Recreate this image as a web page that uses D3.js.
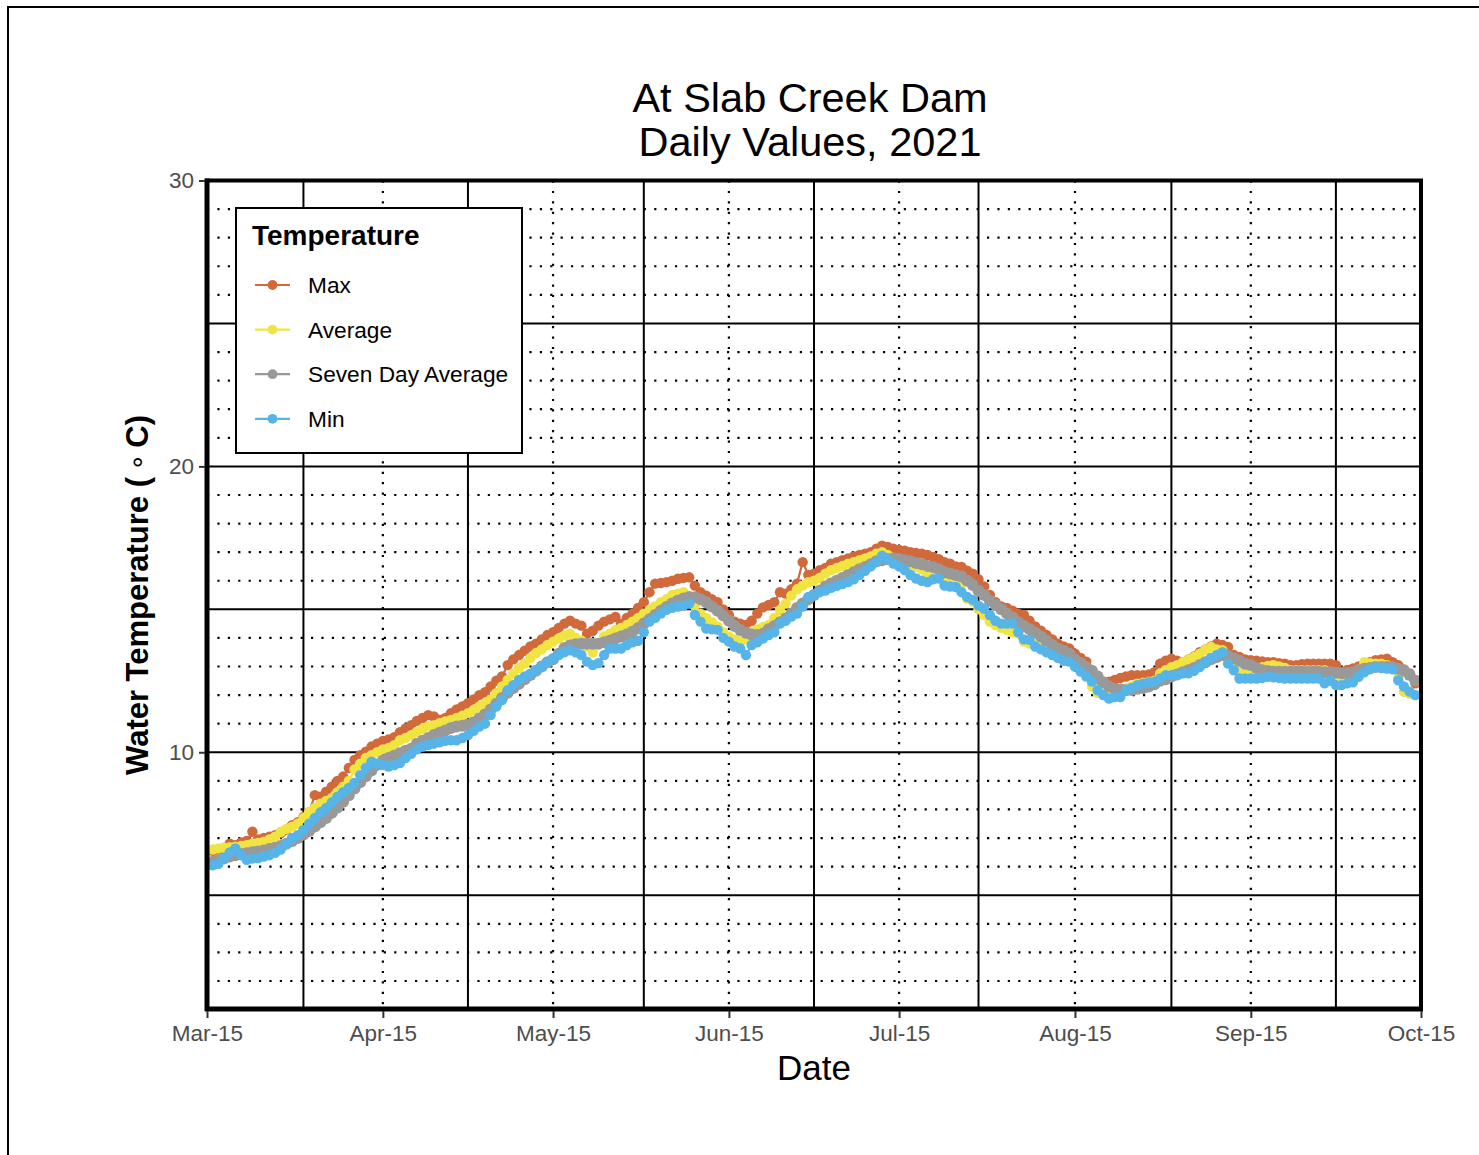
<!DOCTYPE html>
<html><head><meta charset="utf-8">
<script src="https://cdn.jsdelivr.net/npm/d3@7"></script>
<style>body{margin:0;background:#fff}svg{display:block}</style>
</head><body>
<svg id="c" width="1479" height="1155"></svg>
<script>
// ---- data ----
const startDate = "2021-03-16"; // first daily value, one value per day
const maxVals = [
6.55,6.6,6.65,6.8,6.75,6.85,6.9,7.22,6.95,7.0,
7.05,7.1,7.17,7.3,7.45,7.55,7.74,7.9,8.5,8.45,
8.62,8.8,9.0,9.15,9.45,9.73,9.9,10.02,10.2,10.3,
10.4,10.45,10.53,10.7,10.83,10.95,11.1,11.2,11.3,11.25,
11.13,11.2,11.37,11.5,11.6,11.72,11.85,12.0,12.1,12.3,
12.5,12.65,13.05,13.25,13.4,13.55,13.7,13.8,13.95,14.1,
14.2,14.35,14.5,14.6,14.5,14.43,14.15,14.25,14.43,14.57,
14.65,14.73,14.5,14.7,14.85,15.05,15.25,15.6,15.9,15.92,
15.95,16.0,16.07,16.1,16.12,15.83,15.6,15.48,15.35,15.25,
15.0,14.8,14.57,14.5,14.45,14.6,14.85,15.07,15.15,15.25,
15.6,15.55,15.7,15.9,16.65,16.2,16.25,16.37,16.45,16.6,
16.65,16.72,16.78,16.85,16.9,16.95,17.0,17.12,17.23,17.18,
17.12,17.08,17.05,17.0,16.97,16.95,16.9,16.83,16.75,16.65,
16.6,16.5,16.48,16.35,16.25,16.05,15.8,15.5,15.25,15.1,
15.05,14.95,14.85,14.8,14.6,14.4,14.25,14.1,13.95,13.8,
13.7,13.63,13.45,13.3,13.17,12.65,12.55,12.45,12.47,12.53,
12.6,12.65,12.7,12.7,12.7,12.72,12.8,13.1,13.2,13.27,
13.2,13.15,13.25,13.35,13.5,13.6,13.7,13.8,13.75,13.68,
13.4,13.33,13.25,13.22,13.2,13.18,13.15,13.15,13.12,13.1,
13.05,13.05,13.08,13.1,13.1,13.1,13.1,13.1,13.05,12.82,
12.88,12.93,13.0,13.1,13.15,13.22,13.25,13.27,13.15,13.05,
12.9,12.76,12.41];
const avgVals = [
6.6,6.64,6.66,6.68,6.7,6.72,6.75,6.8,6.83,6.87,
6.95,7.05,7.22,7.32,7.4,7.5,7.7,7.9,8.05,8.2,
8.3,8.4,8.6,8.8,9.0,9.4,9.6,9.8,9.9,10.0,
10.1,10.15,10.25,10.42,10.5,10.6,10.72,10.82,10.9,10.95,
11.02,11.08,11.13,11.2,11.28,11.37,11.48,11.6,11.72,11.85,
12.07,12.3,12.53,12.75,12.95,13.1,13.3,13.47,13.6,13.75,
13.87,13.98,14.08,14.15,14.0,13.9,13.7,13.5,13.8,14.05,
14.15,14.28,14.35,14.45,14.57,14.7,14.85,14.98,15.1,15.25,
15.35,15.5,15.55,15.6,15.4,15.13,14.85,14.7,14.55,14.4,
14.2,14.05,13.95,13.87,13.95,14.22,14.3,14.38,14.45,14.7,
14.97,15.2,15.48,15.7,15.83,15.95,16.0,16.1,16.25,16.37,
16.45,16.52,16.6,16.65,16.72,16.78,16.85,16.95,17.0,16.9,
16.8,16.72,16.65,16.55,16.48,16.4,16.25,16.2,16.15,16.08,
16.0,15.95,15.9,15.38,15.27,15.0,14.8,14.57,14.45,14.35,
14.28,14.2,14.15,13.87,13.8,13.75,13.7,13.62,13.57,13.45,
13.35,13.22,13.05,12.9,12.7,12.3,12.07,12.05,12.0,12.1,
12.18,12.23,12.3,12.4,12.43,12.47,12.5,12.75,12.87,12.98,
13.05,13.15,13.25,13.33,13.45,13.6,13.68,13.6,13.57,13.2,
12.98,12.9,12.82,12.85,12.92,12.98,13.02,13.05,13.0,12.95,
12.87,12.87,12.87,12.87,12.87,12.87,12.87,12.8,12.7,12.64,
12.64,12.64,12.9,13.15,13.12,13.1,13.1,13.05,12.95,12.6,
12.12,12.05,12.0];
const sevenDayVals = [
6.17,6.22,6.28,6.35,6.4,6.44,6.47,6.5,6.53,6.56,
6.62,6.66,6.72,6.8,6.9,7.0,7.12,7.25,7.4,7.55,
7.7,7.88,8.07,8.27,8.5,8.73,8.95,9.16,9.36,9.56,
9.7,9.8,9.88,9.97,10.05,10.12,10.3,10.4,10.5,10.6,
10.68,10.76,10.85,10.9,10.93,10.97,11.05,11.18,11.32,11.5,
11.7,11.9,12.08,12.25,12.4,12.55,12.7,12.85,13.0,13.15,
13.25,13.45,13.65,13.74,13.78,13.8,13.8,13.8,13.8,13.85,
13.9,13.98,14.05,14.12,14.22,14.35,14.5,14.65,14.8,14.95,
15.08,15.2,15.3,15.38,15.43,15.42,15.35,15.25,15.1,14.95,
14.78,14.6,14.42,14.28,14.18,14.12,14.1,14.15,14.3,14.42,
14.55,14.68,14.85,15.05,15.2,15.35,15.5,15.65,15.8,15.9,
16.0,16.1,16.2,16.3,16.4,16.48,16.58,16.68,16.72,16.76,
16.78,16.76,16.72,16.68,16.62,16.58,16.52,16.48,16.4,16.3,
16.25,16.2,16.15,16.0,15.85,15.65,15.5,15.3,15.15,15.0,
14.85,14.72,14.55,14.42,14.3,14.18,14.05,13.9,13.75,13.62,
13.55,13.45,13.25,13.12,12.98,12.85,12.65,12.45,12.3,12.22,
12.2,12.17,12.18,12.22,12.25,12.3,12.38,12.5,12.55,12.65,
12.72,12.8,12.87,12.95,13.05,13.15,13.25,13.33,13.4,13.38,
13.28,13.2,13.1,13.05,12.95,12.87,12.84,12.82,12.82,12.82,
12.82,12.82,12.82,12.82,12.82,12.82,12.8,12.8,12.78,12.76,
12.76,12.8,12.87,12.92,12.95,12.98,12.98,12.98,12.98,12.92,
12.85,12.7,12.5];
const minVals = [
6.05,6.1,6.3,6.5,6.64,6.4,6.24,6.28,6.3,6.35,
6.4,6.48,6.6,6.8,7.0,7.1,7.28,7.5,7.7,7.9,
8.05,8.25,8.45,8.6,8.75,8.93,9.2,9.45,9.67,9.6,
9.55,9.5,9.55,9.62,9.8,9.95,10.1,10.2,10.25,10.3,
10.35,10.4,10.42,10.42,10.5,10.6,10.75,10.9,11.0,11.3,
11.6,11.83,12.17,12.35,12.53,12.65,12.75,12.87,13.0,13.15,
13.28,13.4,13.5,13.57,13.5,13.4,13.17,13.05,13.12,13.4,
13.63,13.63,13.63,13.75,13.85,13.9,14.2,14.57,14.7,14.85,
14.98,15.05,15.1,15.13,15.2,14.8,14.57,14.33,14.3,14.28,
14.0,13.87,13.7,13.63,13.4,13.75,13.85,13.98,14.1,14.2,
14.5,14.6,14.75,14.85,15.1,15.43,15.5,15.6,15.66,15.75,
15.82,15.88,15.95,16.05,16.2,16.35,16.5,16.65,16.88,16.75,
16.6,16.5,16.37,16.2,16.08,16.0,15.95,16.05,16.08,15.83,
15.8,15.78,15.6,15.43,15.33,15.13,15.03,14.8,14.6,14.5,
14.5,14.5,14.2,13.95,13.93,13.7,13.6,13.5,13.4,13.3,
13.2,13.17,13.0,12.82,12.65,12.47,12.17,12.0,11.88,11.93,
11.93,12.17,12.25,12.35,12.4,12.45,12.47,12.58,12.7,12.7,
12.7,12.76,12.76,12.85,12.98,13.15,13.3,13.4,13.5,13.1,
12.87,12.58,12.58,12.58,12.58,12.6,12.64,12.62,12.6,12.58,
12.58,12.58,12.58,12.58,12.58,12.58,12.41,12.5,12.35,12.35,
12.41,12.45,12.64,12.8,12.9,12.98,12.95,12.93,12.9,12.52,
12.3,12.12,12.0];

const seriesNames = ["Max", "Average", "Seven Day Average", "Min"];
const seriesColors = ["#D2693A", "#F0E442", "#999999", "#56B4E9"];
const xTickDates = ["2021-03-15","2021-04-15","2021-05-15","2021-06-15","2021-07-15","2021-08-15","2021-09-15","2021-10-15"];
const xTickLabels = ["Mar-15","Apr-15","May-15","Jun-15","Jul-15","Aug-15","Sep-15","Oct-15"];
const xSolidGridDates = ["2021-04-01","2021-04-30","2021-05-31","2021-06-30","2021-07-29","2021-09-01","2021-09-30"];
const yTickValues = [10, 20, 30];
const ySolidGrid = [5, 10, 15, 20, 25];
const yDottedGrid = [2,3,4,6,7,8,9,11,12,13,14,16,17,18,19,21,22,23,24,26,27,28,29];
const titleLines = ["At Slab Creek Dam", "Daily Values, 2021"];

// ---- drawing ----
const FONT = "Liberation Sans, Arial, sans-serif";
const svg = d3.select("#c");
const parse = d3.utcParse("%Y-%m-%d");
const L = 207, R = 1421, T = 180.5, B = 1009;
const x = d3.scaleUtc().domain([parse("2021-03-15"), parse("2021-10-15")]).range([L, R]);
const y = d3.scaleLinear().domain([1.02, 30]).range([B, T]);

const start = parse(startDate);
const valueSets = [maxVals, avgVals, sevenDayVals, minVals];
const series = valueSets.map((vals, i) => ({
  name: seriesNames[i], color: seriesColors[i],
  pts: vals.map((v, k) => ({date: d3.utcDay.offset(start, k), v}))
}));

// outer frame
svg.append("rect").attr("x", 8).attr("y", 7).attr("width", 1500).attr("height", 1200)
  .attr("fill", "none").attr("stroke", "#000").attr("stroke-width", 2);

// title
svg.append("g").selectAll("text").data(titleLines).join("text")
  .attr("x", 810).attr("y", (d, i) => 112 + i * 44)
  .attr("text-anchor", "middle").attr("font-family", FONT)
  .attr("font-size", 41.5).attr("fill", "#000").text(d => d);

const grid = svg.append("g");
grid.selectAll("line.hd").data(yDottedGrid).join("line")
  .attr("x1", L).attr("x2", R).attr("y1", d => y(d)).attr("y2", d => y(d))
  .attr("stroke", "#000").attr("stroke-width", 2.2).attr("stroke-dasharray", "2.2,8.2");
grid.selectAll("line.vd").data(xTickDates.slice(1, -1)).join("line")
  .attr("x1", d => x(parse(d))).attr("x2", d => x(parse(d))).attr("y1", T).attr("y2", B)
  .attr("stroke", "#000").attr("stroke-width", 2.2).attr("stroke-dasharray", "2.2,8.2");
grid.selectAll("line.hs").data(ySolidGrid).join("line")
  .attr("x1", L).attr("x2", R).attr("y1", d => y(d)).attr("y2", d => y(d))
  .attr("stroke", "#000").attr("stroke-width", 2);
grid.selectAll("line.vs").data(xSolidGridDates).join("line")
  .attr("x1", d => x(parse(d))).attr("x2", d => x(parse(d))).attr("y1", T).attr("y2", B)
  .attr("stroke", "#000").attr("stroke-width", 2);

// series lines
const line = d3.line().x(d => x(d.date)).y(d => y(d.v));
svg.append("g").selectAll("path").data(series).join("path")
  .attr("d", s => line(s.pts)).attr("fill", "none").attr("stroke", s => s.color)
  .attr("stroke-width", s => s.name === "Seven Day Average" ? 4.5 : 2.2);
// series points
const pg = svg.append("g");
series.forEach(s => {
  pg.append("g").selectAll("circle").data(s.pts).join("circle")
    .attr("cx", d => x(d.date)).attr("cy", d => y(d.v))
    .attr("r", s.name === "Seven Day Average" ? 6 : 5.2).attr("fill", s.color);
});

// panel border
svg.append("rect").attr("x", L).attr("y", T).attr("width", R - L).attr("height", B - T)
  .attr("fill", "none").attr("stroke", "#000").attr("stroke-width", 4);
svg.append("line").attr("x1", L).attr("x2", L).attr("y1", T - 2).attr("y2", B + 2)
  .attr("stroke", "#000").attr("stroke-width", 5);
svg.append("line").attr("x1", L - 2).attr("x2", R + 2).attr("y1", B).attr("y2", B)
  .attr("stroke", "#000").attr("stroke-width", 5);

// y axis
const yAxis = d3.axisLeft(y).tickValues(yTickValues).tickSize(6).tickPadding(5);
const ga = svg.append("g").attr("transform", `translate(${L - 2},0)`).call(yAxis);
ga.select(".domain").remove();
ga.selectAll(".tick line").attr("stroke", "#333").attr("stroke-width", 2);
ga.selectAll(".tick text").attr("font-family", FONT)
  .attr("font-size", 22.5).attr("fill", "#4D4D4D");

// x axis
const xAxis = d3.axisBottom(x).tickValues(xTickDates.map(parse))
  .tickFormat((d, i) => xTickLabels[i]).tickSize(7).tickPadding(7);
const gx = svg.append("g").attr("transform", `translate(0,${B + 2})`).call(xAxis);
gx.select(".domain").remove();
gx.selectAll(".tick line").attr("stroke", "#333").attr("stroke-width", 2);
gx.selectAll(".tick text").attr("font-family", FONT)
  .attr("font-size", 22.5).attr("fill", "#4D4D4D");

// axis titles
svg.append("text").attr("x", 814).attr("y", 1080).attr("text-anchor", "middle")
  .attr("font-family", FONT).attr("font-size", 35)
  .attr("fill", "#000").text("Date");
const yt = svg.append("text").attr("transform", "translate(148,595) rotate(-90)")
  .attr("text-anchor", "middle").attr("font-family", FONT)
  .attr("font-size", 31).attr("font-weight", "bold").attr("fill", "#000");
yt.append("tspan").text("Water Temperature ( ");
yt.append("tspan").attr("dy", 6).attr("font-size", 30).attr("font-weight", "normal").text("°");
yt.append("tspan").attr("dy", -6).text(" C)");

// legend
const lg = svg.append("g");
lg.append("rect").attr("x", 236).attr("y", 208).attr("width", 286).attr("height", 245)
  .attr("fill", "#fff").attr("stroke", "#000").attr("stroke-width", 2);
lg.append("text").attr("x", 252).attr("y", 245).attr("font-family", FONT)
  .attr("font-size", 28).attr("font-weight", "bold").attr("fill", "#000").text("Temperature");
const items = lg.selectAll("g.item").data(series).join("g")
  .attr("transform", (d, i) => `translate(0,${285 + i * 44.6})`);
items.append("line").attr("x1", 255).attr("x2", 290).attr("y1", 0).attr("y2", 0)
  .attr("stroke", d => d.color).attr("stroke-width", 2.2);
items.append("circle").attr("cx", 272.5).attr("cy", 0).attr("r", 4.9).attr("fill", d => d.color);
items.append("text").attr("x", 308).attr("y", 8).attr("font-family", FONT)
  .attr("font-size", 22.7).attr("fill", "#000").text(d => d.name);
</script>
</body></html>
